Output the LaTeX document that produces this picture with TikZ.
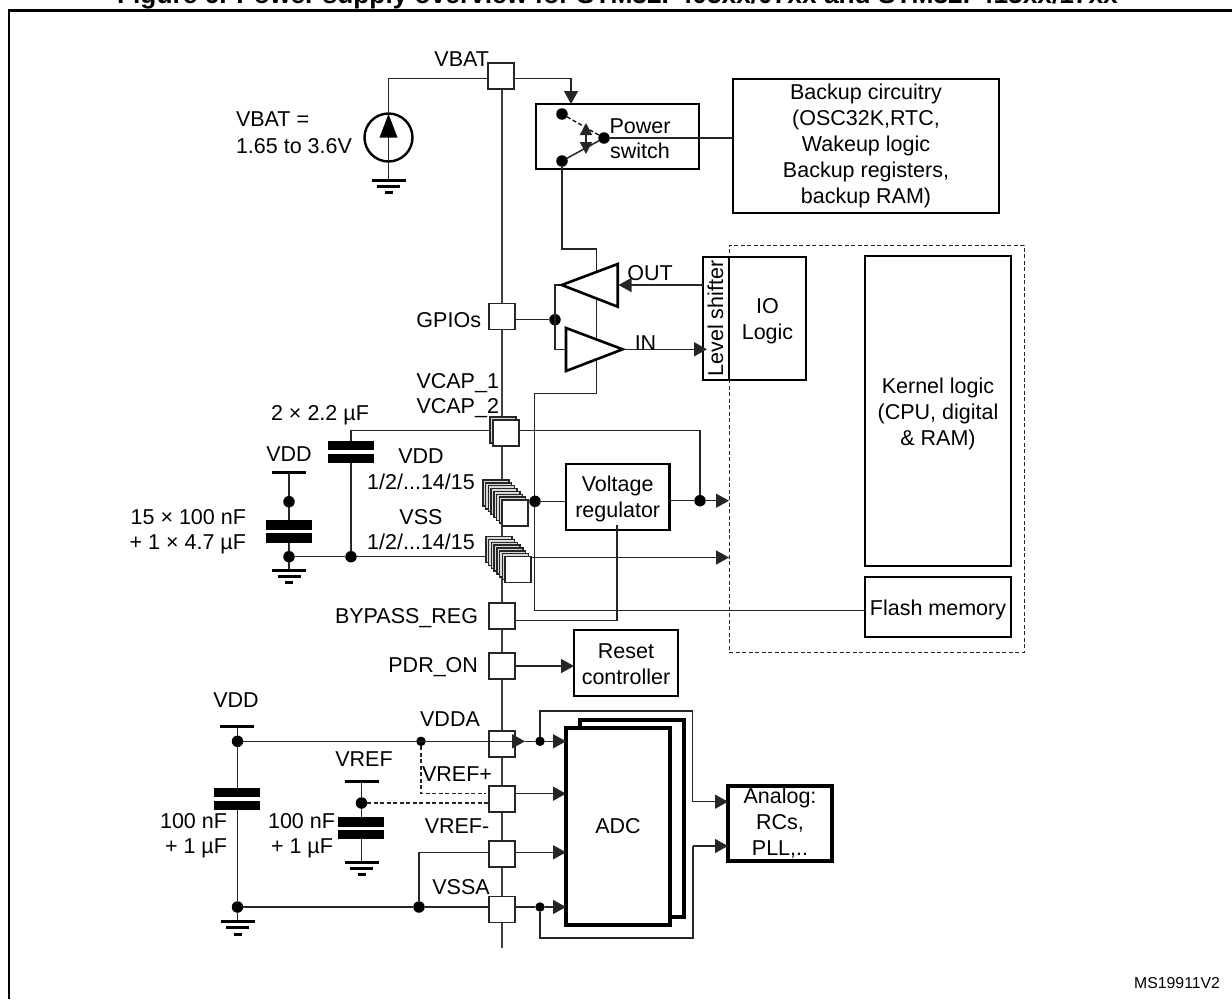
\documentclass[tikz,border=0pt]{standalone}
\usepackage{fontspec}
\setmainfont{Liberation Sans}
\usetikzlibrary{arrows.meta,calc}
\definecolor{wirecol}{HTML}{262626}
\definecolor{buscol}{HTML}{404040}
\newcommand{\toprl}[1]{\rule{0pt}{#1pt}}
\tikzset{
  x=1pt,y=-1pt,
  every node/.style={inner sep=0pt,outer sep=0pt,font=\fontsize{21.5}{26}\selectfont,align=center},
  lab/.style={text height=15.4pt,text depth=0pt,align=left},
  wire/.style={draw=wirecol,line width=1.5pt},
  bus/.style={draw=buscol,line width=1.7pt},
  arr/.style={wire,-{Triangle[length=13pt,width=14pt]}},
  dashwire/.style={draw=wirecol,line width=1.2pt,dash pattern=on 4pt off 2.5pt},
  pad/.style={rectangle,draw=wirecol,line width=1.4pt,fill=white,minimum width=26pt,minimum height=26pt},
  padback/.style={pad,fill=gray!30},
  blockbox/.style={rectangle,draw=black,line width=2.8pt,fill=white},
  thickbox/.style={rectangle,draw=black,line width=3.5pt,fill=white},
  dot/.style={circle,fill=black,minimum size=11.5pt},
  smalldot/.style={circle,fill=black,minimum size=9.5pt},
  plate/.style={rectangle,fill=black,minimum width=46pt,minimum height=9.5pt},
  railbar/.style={draw=black,line width=3pt},
  amp/.style={draw=black,line width=2.6pt,fill=white,line join=miter},
}
\newcommand{\groundsym}[2]{%
  \draw[railbar] ($(#1,#2)+(-17,0)$) -- ($(#1,#2)+(17,0)$);
  \draw[railbar] ($(#1,#2)+(-11.5,6)$) -- ($(#1,#2)+(11.5,6)$);
  \draw[railbar] ($(#1,#2)+(-4,12.5)$) -- ($(#1,#2)+(4,12.5)$);
}
\begin{document}
\begin{tikzpicture}
\useasboundingbox (0,0) rectangle (1232,999);
% title and frame
\node[anchor=base,font=\bfseries\fontsize{26.3}{30}\selectfont] (title) at (617.5,3.5) {Figure 6. Power supply overview for STM32F405xx/07xx and STM32F415xx/17xx};
\coordinate (frameA) at (9,999);
\coordinate (frameB) at (9,10.5);
\coordinate (frameC) at (1232,10.5);
\draw[black,line width=2.5pt] (frameA) -- (frameB) -- (frameC);
\node[anchor=base east,font=\fontsize{15.8}{19}\selectfont] (ms) at (1220,988) {MS19911V2};

% bus
\coordinate (busT) at (501.7,76);
\coordinate (busB) at (501.7,948);
\draw[bus] (busT) -- (busB);

% dashed domain
\node[rectangle,draw=wirecol,line width=1pt,dash pattern=on 4pt off 2.5pt,minimum width=295pt,minimum height=407pt] (domain) at (876.5,448.5) {};

% blocks
\node[blockbox,minimum width=163pt,minimum height=65pt] (psw) at (617.5,136.5) {};
\node[blockbox,minimum width=266pt,minimum height=134pt] (backup) at (866,146) {Backup circuitry\\(OSC32K,RTC,\\Wakeup logic\\Backup registers,\\backup RAM)};
\node[blockbox,minimum width=26pt,minimum height=123pt] (shift) at (716,318.5) {};
\node[rotate=90] (shifttxt) at (715.5,318.5) {Level shifter};
\node[blockbox,minimum width=77pt,minimum height=123pt] (io) at (767.5,318.5) {\toprl{21}IO\\Logic};
\node[blockbox,minimum width=146pt,minimum height=310pt] (kernel) at (938,411) {\toprl{21}Kernel logic\\(CPU, digital\\\&\ RAM)};
\node[blockbox,minimum width=146pt,minimum height=60pt] (flash) at (938,607) {\toprl{21}Flash memory};
\node[blockbox,minimum width=103.5pt,minimum height=66pt] (vreg) at (617.7,497) {\toprl{19}Voltage\\regulator};
\node[blockbox,minimum width=104pt,minimum height=66pt] (reset) at (626,663) {\toprl{18}Reset\\controller};
\node[thickbox,minimum width=104pt,minimum height=197pt] (adcb) at (632,818.5) {};
\node[thickbox,minimum width=104pt,minimum height=197pt] (adc) at (618,826.5) {ADC};
\node[thickbox,minimum width=104pt,minimum height=75pt] (analog) at (780,823.5) {Analog:\\RCs,\\PLL,..};

% pads
\node[pad] (vbatp) at (501,76) {};
\node[pad] (gpiop) at (502,316.5) {};
\node[pad,fill=gray!30,line width=1.4pt] (vcapb) at (503,430) {};
\node[pad] (vcapp) at (506,433) {};
\foreach \i in {7,6,...,1}
  \node[padback] (vddb\i) at ($(515,513)+(-2.72*\i,-2.85*\i)$) {};
\node[pad] (vddp) at (515,513) {};
\foreach \i in {7,6,...,1}
  \node[padback] (vssb\i) at ($(518,569.5)+(-2.72*\i,-2.85*\i)$) {};
\node[pad] (vssp) at (518,569.5) {};
\node[pad] (byp) at (502,616) {};
\node[pad] (pdr) at (502,666) {};
\node[pad] (vddap) at (502,744) {};
\node[pad] (vrefpp) at (502,799) {};
\node[pad] (vrefmp) at (502,854) {};
\node[pad] (vssap) at (502,909.5) {};

% power switch
\node[dot] (swa) at (562,114) {};
\node[dot] (swb) at (562,161) {};
\node[dot] (swc) at (604,138) {};
\draw[draw=black,line width=1.3pt,dash pattern=on 4pt off 2.5pt] (swa) -- (swc);
\draw[wire] (swb) -- (swc);
\coordinate (swmid) at (586,139);
\coordinate (swup) at (586,123);
\coordinate (swdn) at (586,154);
\draw[wire,-{Triangle[length=12pt,width=12pt]}] (swmid) -- (swup);
\draw[wire,-{Triangle[length=12pt,width=12pt]}] (swmid) -- (swdn);
\draw[wire] (swc) -- (backup.west |- swc);
\node (pwtxt) at (640,126) {Power};
\node (swtxt) at (640,151) {switch};

% VBAT source
\coordinate (vbatw) at (388.5,78.5);
\node[circle,draw=black,line width=2.4pt,minimum size=48pt] (src) at (388.5,137.5) {};
\coordinate (gndvbat) at (388.5,180);
\draw[wire] (vbatp.west |- vbatw) -- (vbatw) -- (src.north);
\draw[wire] (src.north) -- (gndvbat);
\fill[black] (388.5,114) -- (397.5,137.5) -- (379.5,137.5) -- cycle;
\groundsym{388.5}{180}
\coordinate (swin) at (571,78.5);
\draw[arr] (vbatp.east |- swin) -- (swin) -- (571,104);

% switch to amplifiers and flash supply
\coordinate (ra) at (562,249);
\coordinate (rb) at (596.7,249);
\coordinate (rc) at (596.7,393.3);
\coordinate (rd) at (534.3,393.3);
\coordinate (re) at (534.3,610.7);
\draw[wire] (swb) -- (ra) -- (rb) -- (rc) -- (rd) -- (re) -- (flash.west |- re);

% amplifiers
\coordinate (outtip) at (561.7,285);
\coordinate (inbase) at (566,349.3);
\node[dot] (gpiodot) at (555,319.7) {};
\draw[wire] (gpiop.east |- gpiodot) -- (gpiodot);
\draw[wire] (outtip) -- (gpiodot.center |- outtip) -- (gpiodot.center) -- (gpiodot.center |- inbase) -- (inbase);
\draw[amp] (outtip) -- (617.7,264) -- (617.7,306.7) -- cycle;
\draw[amp] (inbase |- 0,328) -- (622.7,349.3) -- (inbase |- 0,371) -- cycle;
\coordinate (intip) at (622.7,349.3);
\draw[arr] (shift.west |- outtip) -- (618.5,285);
\draw[arr] (intip) -- (707,349.3);
\node[lab] (outl) at (650,273) {OUT};
\node[lab] (inl) at (645.5,343) {IN};

% VCAP and VDD/VSS
\node[dot] (vddjr) at (700,500.7) {};
\node[dot] (vddj) at (535,501.3) {};
\coordinate (capjt) at (351,430.7);
\coordinate (capr) at (700,430.7);
\coordinate (dvddt) at (729,500.7);
\coordinate (dvsst) at (729,557.5);
\node[plate] (cap1a) at (351,445.5) {};
\node[plate] (cap1b) at (351,458.5) {};
\node[dot] (capj) at (351,556.7) {};
\node[dot] (lj) at (289,556.7) {};
\draw[wire] (vcapb.west |- capjt) -- (capjt) -- (cap1a.north);
\draw[wire] (cap1b.south) -- (capj);
\draw[wire] (vcapp.east |- capr) -- (capr) -- (vddjr);
\draw[arr] (vddjr) -- (dvddt);
\draw[wire] (vddp.east |- vddj) -- (vddj);
\draw[wire] (vddj) -- (vreg.west |- vddj);
\draw[wire] (vreg.east |- vddjr) -- (vddjr);
\draw[wire] (lj) -- (capj);
\draw[wire] (capj) -- (vssb7.west |- capj);
\draw[arr] (vssp.east |- dvsst) -- (dvsst);
% left VDD
\coordinate (vddl) at (289,472.7);
\draw[railbar] (272,472.7) -- (306,472.7);
\node[dot] (ltop) at (289,501.7) {};
\node[plate] (cap2a) at (289,525) {};
\node[plate] (cap2b) at (289,538) {};
\coordinate (gl) at (289,570);
\draw[wire] (vddl) -- (ltop) -- (cap2a.north);
\draw[wire] (cap2b.south) -- (lj);
\draw[wire] (lj) -- (gl);
\groundsym{289}{570}
% regulator bypass
\coordinate (byc) at (617,620.3);
\coordinate (byt) at (617,525);
\draw[wire] (byt) -- (byc) -- (byp.east |- byc);
% reset
\draw[arr] (pdr.east) -- (reset.west |- pdr.east);

% analog section
\coordinate (vl) at (237.5,726.7);
\draw[railbar] (220,726.7) -- (254,726.7);
\node[dot] (vtop) at (237.5,741.3) {};
\node[smalldot] (vj) at (421,741.3) {};
\node[smalldot] (vdj) at (540,741.3) {};
\coordinate (vtip) at (525,741.3);
\coordinate (adct1) at (566,741.3);
\draw[wire] (vl) -- (vtop);
\draw[arr] (vtop) -- (vtip);
\draw[wire] (vtip) -- (vdj);
\draw[arr] (vdj) -- (adct1);
\node[plate] (cap3a) at (236.5,792.5) {};
\node[plate] (cap3b) at (236.5,805.5) {};
\node[dot] (vbot) at (237.5,907) {};
\draw[wire] (vtop) -- (vtop |- cap3a.north);
\draw[wire] (vbot |- cap3b.south) -- (vbot);
\coordinate (g3) at (237.5,921.7);
\draw[wire] (vbot) -- (g3);
\groundsym{237.5}{921.7}
% VREF
\coordinate (vr) at (361.5,781.7);
\draw[railbar] (344.5,781.7) -- (378.5,781.7);
\node[dot] (vrj) at (361.5,803) {};
\node[plate] (cap4a) at (361,822) {};
\node[plate] (cap4b) at (361,834.5) {};
\coordinate (g4) at (361.5,862);
\draw[wire] (vr) -- (vrj) -- (vrj |- cap4a.north);
\draw[wire] (vrj |- cap4b.south) -- (g4);
\groundsym{361.5}{862}
\draw[dashwire] (vrj) -- (vrefpp.west |- vrj);
\coordinate (dsb) at (421,793.3);
\coordinate (dsc) at (486,793.3);
\draw[dashwire] (vj) -- (dsb) -- (dsc);
% VSSA
\node[dot] (sj) at (419,907) {};
\coordinate (sjt) at (419,852.3);
\draw[wire] (vbot) -- (sj) -- (vssap.west |- sj);
\draw[wire] (sj) -- (sjt) -- (vrefmp.west |- sjt);
\node[smalldot] (ssj) at (540,907) {};
\coordinate (adct2) at (566,793.7);
\coordinate (adct3) at (566,852.3);
\coordinate (adct4) at (566,907);
\draw[wire] (vssap.east |- ssj) -- (ssj);
\draw[arr] (ssj) -- (adct4);
\draw[arr] (vrefpp.east |- adct2) -- (adct2);
\draw[arr] (vrefmp.east |- adct3) -- (adct3);
% analog feed
\coordinate (a1) at (540,711);
\coordinate (a2) at (692.3,711);
\coordinate (a3) at (692.3,801.7);
\coordinate (a4) at (728,801.7);
\draw[wire] (vdj) -- (a1) -- (a2) -- (a3);
\draw[arr] (a3) -- (a4);
\coordinate (b1) at (540,938);
\coordinate (b2) at (693,938);
\coordinate (b3) at (693,846);
\coordinate (b4) at (728,846);
\draw[wire] (ssj) -- (b1) -- (b2) -- (b3);
\draw[arr] (b3) -- (b4);

% labels
\node[lab,anchor=east] (l1) at (489,59) {VBAT};
\node[lab,anchor=west] (l2) at (236,119) {VBAT =};
\node[lab,anchor=west] (l3) at (236,146) {1.65 to 3.6V};
\node[lab,anchor=east] (l4) at (481,320) {GPIOs};
\node[lab,anchor=east] (l5) at (499,381) {VCAP\_1};
\node[lab,anchor=east] (l6) at (499,405.5) {VCAP\_2};
\node[lab] (l7) at (320,413) {2 × 2.2 µF};
\node[lab] (l8) at (289,454) {VDD};
\node[lab] (l9) at (421,456) {VDD};
\node[lab] (l10) at (421,482) {1/2/...14/15};
\node[lab] (l11) at (421,517) {VSS};
\node[lab] (l12) at (421,542) {1/2/...14/15};
\node[lab,anchor=east] (l13) at (246,517) {15 × 100 nF};
\node[lab,anchor=east] (l14) at (246,542) {+ 1 × 4.7 µF};
\node[lab,anchor=east] (l15) at (478,616) {BYPASS\_REG};
\node[lab,anchor=east] (l16) at (478,665) {PDR\_ON};
\node[lab] (l17) at (236,700) {VDD};
\node[lab] (l18) at (450,719) {VDDA};
\node[lab] (l19) at (364,759) {VREF};
\node[lab] (l20) at (457,774) {VREF+};
\node[lab] (l21) at (457,825.7) {VREF-};
\node[lab] (l22) at (461,887) {VSSA};
\node[lab,anchor=east] (l23) at (227,821) {100 nF};
\node[lab,anchor=east] (l24) at (227,846) {+ 1 µF};
\node[lab,anchor=east] (l25) at (335,821) {100 nF};
\node[lab,anchor=east] (l26) at (333,846) {+ 1 µF};
\end{tikzpicture}
\end{document}
